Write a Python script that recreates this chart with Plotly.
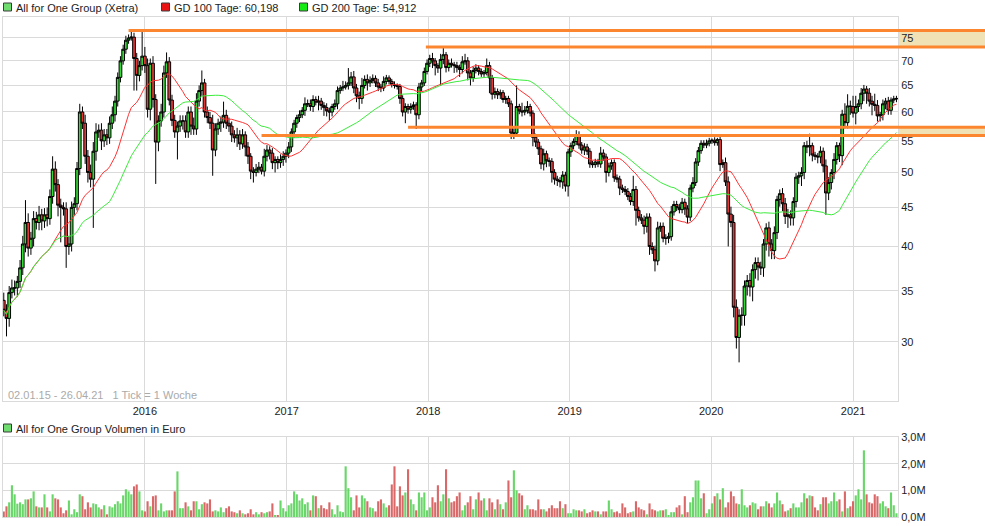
import math
import pandas as pd
import plotly.graph_objects as go

# ---------------- data (weekly) ----------------
close_2015 = [33.0,32.2,34.8,35.3,35.3,36.0,37.5,40.3,43.0,39.8,41.0,43.5,43.0,44.0,43.2,44.0,43.5,46.5,50.5,48.2,
              45.3,45.0,44.8,40.0,40.3,45.0,45.5,50.6,60.0,58.0,52.5,50.0,49.0,53.3,56.5,56.8,55.0,56.0,55.5,58.0,
              59.5,62.0,66.6,70.0,72.5,74.5,75.0,75.2,70.5,67.0,69.0,71.0]
close_2016 = [69,60.5,69.5,62.3,54.8,58.4,60,67.5,69.8,62.2,58.5,56.5,57.5,58.4,58.4,56.5,60,57.5,57,62,
              64,65.5,60,59,58,53.5,57,58,58.2,59.4,58,57.5,56,55.5,56,54.5,56,54,52.5,50.2,
              50,50.5,50.8,50.2,52.5,53.5,53,51.5,52,51.5,52,52.5]
close_2017 = [53,54,56.5,58,59,59.5,60.3,61.5,61.5,61,62.3,61.8,62,61.2,60.8,60.2,60,61,61.5,64,
              64.5,64.7,65,65.5,66.7,64.5,63,62.5,65,66.2,65.5,66,66.4,65.5,64.7,64.5,65.8,66.5,65.8,65.2,
              65,64.8,62.5,60,61,60.5,61,61.3,59.5,64.7,65.5,67.8,69.5]
close_2018 = [70.5,70,69,68.5,70.3,71.3,68.6,69.5,69.2,69,68.6,68.2,69.8,70,67.5,66.5,68,68.5,67.8,67.3,
              67.6,69,66.5,63.3,63.8,63.2,63.6,62.3,62.5,61.5,56.3,56.3,61,60.2,60,60.3,61,59.8,55.6,54.8,
              53.7,51.3,52.9,51.8,51.7,50,49,48.8,48.6,49.6,48.0]
close_2019 = [53.2,54.2,54.9,56,54.3,53.5,54,53.3,51.3,51.2,51.6,51.3,53,52.4,50,51,51.5,49.2,49,47.7,
              47.5,47.2,46.5,45.8,47.5,44.6,43.6,43.3,42.5,43.7,40,39.6,38.3,42.3,42.5,41,41,41.2,44.4,45.4,
              45,44.7,45.7,44.8,43.7,47.7,48.5,51.6,53.4,54.6,54.3,54.6]
close_2020_21 = [55,55.1,54.7,55.2,51.2,51.5,48.6,44.1,43,33.3,30.4,32.5,32.5,35.5,36.1,35.4,37.3,38.1,37.6,37.5,
                 40.3,42.3,40.3,39.5,41.7,46.1,46.9,45.5,43.8,44,43.6,45.8,49.3,49.5,50,54.2,54,54.2,52.7,52.5,
                 52.4,53.3,51,47,48.5,50,52,54.2,52.6,59.6,58.1,61.1,61,59.8,61,61.5,63.5,64.3,63.5,62,
                 61.4,61.2,59.3,59.5,61.5,62,60.3,62.2,62.4,62.5]
first_open = 34.0

upper_wick = ([0.8,0.6,0.7,0.9,0.8,0.6,0.9,1.0,3.0,1.2,0.8,1.0,0.9,1.2,0.8,0.9,1.0,1.0,2.0,1.2,
               0.8,0.9,0.7,0.9,1.0,0.8,0.9,1.0,1.5,1.0,1.5,1.0,1.2,1.5,1.5,1.0,1.2,1.0,1.0,1.2,
               1.5,1.0,1.0,1.0,1.0,1.0,0.8,1.3,1.0,1.2,1.0,5.5] +
              [2.0,1.5,1.0,1.5,1.0,1.0,1.5,1.5,2.0,1.0,1.0,1.0,0.8,1.0,1.0,1.0,1.0,1.0,1.5,1.5,
               1.0,2.5,0.8,1.0,1.0,1.5,1.0,0.8,1.0,2.5,1.0,1.0,0.8,0.8,1.2,0.8,1.0,0.6,0.8,0.5,
               0.6,0.8,0.8,0.5,1.2,0.8,0.6,0.8,0.5,0.5,0.8,0.8] +
              [0.6,0.8,0.6,0.6,0.5,0.8,0.6,1.2,0.8,0.8,0.8,0.6,1.0,0.6,0.6,0.8,0.6,0.5,0.8,0.8,
               0.6,1.2,0.8,3.0,1.0,1.2,0.8,0.8,1.5,0.8,1.0,0.8,0.8,0.6,0.8,0.6,1.0,0.6,0.5,0.5,
               0.6,0.4,0.5,0.6,0.6,0.5,0.6,0.6,0.5,0.8,0.6,0.8,0.8] +
              [0.8,1.2,0.6,0.5,1.2,1.5,0.6,0.8,1.0,0.6,0.8,0.6,1.2,1.5,0.8,0.6,0.8,0.8,0.6,0.6,
               0.5,1.5,0.8,0.6,0.8,0.6,0.6,0.5,0.5,0.5,0.6,0.8,4.0,0.5,1.5,0.8,1.0,0.5,0.5,0.6,
               0.5,0.5,0.8,0.5,0.5,0.5,0.5,0.5,0.5,0.6,0.5] +
              [0.5,0.5,0.5,0.8,0.6,0.5,0.6,0.5,0.5,0.5,0.5,0.5,1.0,0.6,0.5,0.5,0.5,0.5,0.5,0.5,
               0.5,0.5,0.5,0.5,2.0,0.5,0.5,0.5,0.6,0.5,0.5,0.5,0.5,0.8,0.5,0.5,0.5,0.5,0.8,0.5,
               0.5,0.5,0.6,0.5,0.5,0.5,0.8,0.6,0.6,0.5,0.5,0.6] +
              [0.5,0.3,0.5,0.3,0.5,0.5,0.8,0.8,1.0,1.0,0.8,0.6,0.8,0.6,0.6,0.8,0.6,0.6,0.6,0.6,
               0.6,0.6,0.8,0.6,0.8,0.5,0.6,0.8,0.8,0.8,0.6,0.6,0.6,0.6,0.8,0.6,0.8,2.0,0.5,0.5,
               0.5,0.8,0.6,1.0,0.8,0.5,1.0,0.6,0.5,0.8,2.0,2.2,1.0,2.0,2.0,0.8,1.0,0.8,0.6,1.0,
               1.0,2.0,1.0,0.5,0.8,0.6,0.8,0.5,0.6,0.5])
lower_wick = ([0.6,1.7,0.8,0.6,0.8,0.9,0.7,0.8,1.0,1.0,0.8,1.0,0.9,1.0,1.2,0.9,1.0,0.8,1.0,1.0,
               1.5,4.5,0.9,2.5,1.0,0.9,1.0,0.9,1.0,1.0,1.2,1.5,1.2,6.7,1.5,1.0,1.5,1.0,1.2,1.0,
               1.0,1.2,1.0,1.0,0.8,1.0,0.8,0.6,6.5,3.0,1.2,1.0] +
              [1.5,1.5,2.0,1.5,6.5,1.5,1.0,1.0,1.0,1.0,1.0,1.0,4.5,1.0,1.5,1.0,1.0,1.5,1.0,1.0,
               1.0,1.0,1.0,1.0,1.0,4.0,1.0,1.0,1.5,1.0,1.0,1.0,1.2,0.8,1.5,1.0,0.8,1.5,1.2,1.2,
               1.5,0.6,0.6,0.5,0.8,0.8,1.0,1.0,1.5,1.0,0.8,1.0] +
              [1.0,0.8,0.8,1.0,0.8,0.8,0.6,1.0,0.6,0.8,1.0,0.6,1.5,0.8,1.5,1.0,1.5,0.8,0.6,1.0,
               0.6,0.6,0.5,0.8,0.6,1.0,1.2,2.0,1.0,0.6,1.5,0.8,0.6,0.8,0.8,0.8,0.6,0.6,0.6,0.6,
               0.6,0.6,1.0,0.8,2.0,0.8,0.8,0.6,2.5,0.8,0.8,0.6,0.6] +
              [0.8,1.5,2.0,1.0,3.5,1.0,1.0,0.8,0.6,1.5,1.0,1.5,0.8,0.6,1.5,1.5,0.8,0.6,0.8,0.6,
               0.6,0.6,3.0,1.0,0.8,0.8,0.8,0.6,0.8,0.6,1.0,1.0,0.6,0.6,0.8,0.6,0.6,0.6,1.5,0.8,
               1.0,0.8,1.0,1.0,0.8,1.5,0.8,0.8,0.8,1.0,0.8] +
              [1.5,0.8,0.6,0.6,0.6,0.6,0.8,0.6,0.6,0.5,0.5,0.5,0.6,0.6,1.5,0.6,0.6,0.6,0.5,1.0,
               0.5,0.5,0.5,0.5,0.6,2.0,0.5,0.5,1.0,0.8,1.0,0.5,1.2,0.5,0.5,0.5,0.8,0.6,0.5,0.5,
               0.5,0.5,0.5,0.8,0.8,0.5,0.6,0.5,0.6,0.5,0.5,0.5] +
              [0.5,0.5,0.5,0.5,1.0,0.5,0.6,4.1,0.6,1.0,1.0,2.2,1.0,1.0,1.0,1.0,1.5,1.0,1.5,0.8,
               1.0,0.8,1.5,1.0,1.0,0.8,1.0,1.0,1.0,1.5,1.0,1.0,0.8,1.0,1.5,1.0,1.0,1.5,1.0,0.6,
               1.0,1.0,1.0,3.0,1.0,1.0,1.0,0.8,1.0,1.5,1.0,1.0,1.5,0.8,2.0,1.0,1.0,1.5,2.0,1.0,
               2.0,1.0,1.0,1.0,1.0,1.0,0.8,0.8,0.6,0.6])

# weekly volume in million euro
volume_m = ([0.21,0.4,0.55,1.19,0.85,0.5,0.55,0.48,0.66,0.66,0.7,0.96,0.4,0.36,0.36,0.85,0.36,0.21,0.85,0.7,
             0.66,0.36,0.14,0.25,0.62,0.1,0.29,0.18,0.85,0.78,0.29,0.55,0.36,0.51,0.48,0.36,0.29,0.44,0.1,0.4,
             0.36,0.48,0.59,0.51,0.81,1.04,0.96,0.85,1.15,1.22,0.96,0.25,0.21,0.59,0.4,0.78,0.81,0.25,0.51,0.21,
             0.25,0.25,0.25,0.96,1.71,0.33,0.33,0.55,0.4,0.25,0.59,0.59,0.29,0.48,0.55,0.51,0.66,0.21,0.25,0.21,
             0.36,0.18,0.33,0.4,0.21,0.18,0.14,0.25,0.14,0.1,0.14,0.29,0.1,0.18,0.1,0.18,0.14,0.18,0.21,0.51,
             0.06,0.06,0.62,0.33,0.21,0.44,0.51,0.96,0.85,0.62] +
            [0.7,0.48,0.55,0.25,0.81,0.78,0.33,0.44,0.33,0.29,0.55,0.29,0.1,0.44,0.21,0.18,1.9,1.08,0.74,0.25,
             0.81,0.36,0.81,0.7,0.59,0.36,0.33,0.21,0.59,0.66,0.51,0.36,0.44,1.22,1.9,0.4,1.15,0.81,0.92,1.79,
             0.66,0.48,0.25,0.92,0.74,0.92,0.25,0.36,0.74,0.55,1.19,0.59,0.85,1.79,0.7,0.55,0.59,0.78,0.92,0.25,
             0.44,0.55,0.78,0.29,0.66,0.92,0.62,0.7,0.25,0.7,0.55,0.29,0.66,0.48,0.29,0.55,1.37,0.74,1.75,1.0,
             0.89,0.81,0.29,0.44,0.29,0.29,0.25,0.66,0.29,0.29,0.21,0.33,0.44,0.33,0.33,0.59,0.33,0.48,0.14,0.14,
             0.29,0.25,0.25,0.21,0.29,0.14,0.18,0.25,0.21,0.21] +
            [0.1,0.21,0.21,0.62,0.29,0.18,0.21,0.14,0.51,0.36,0.14,0.18,0.21,0.59,0.36,0.29,0.25,0.1,0.51,0.29,
             0.25,0.21,0.25,0.25,0.29,0.06,0.18,0.18,0.36,0.44,0.1,0.78,0.18,0.55,0.74,1.37,1.37,0.7,0.89,0.14,
             0.29,0.51,0.78,0.89,0.66,1.08,0.36,0.55,0.96,0.78,0.51,0.48,1.04,0.44,0.36,0.44,0.55,0.51,0.29,0.4,
             0.4,0.59,0.51,0.36,0.51,0.92,0.62,0.48,0.21,0.25,0.33,0.51,0.36,0.36,0.55,0.89,0.7,0.81,0.78,0.36,
             0.25,0.48,0.74,0.74,0.51,0.59,0.92,0.59,0.66,0.21,0.96,0.33,0.4,0.59,0.81,1.04,0.66,2.5,0.85,0.55,
             0.51,0.85,0.78,0.51,0.59,0.4,0.33,0.92,0.44,0.14])

# horizontal support / resistance lines: level and start date
line_levels = [76.7, 73.0, 57.3, 55.9]
line_starts = ["2015-11-20", "2017-12-26", "2017-11-10", "2016-10-28"]
band_pairs = [(76.7, 73.0), (57.3, 55.9)]

price_ticks = [30, 35, 40, 45, 50, 55, 60, 65, 70, 75]
year_ticks = ["2016-01-01", "2017-01-01", "2018-01-01", "2019-01-01", "2020-01-01", "2021-01-01"]
year_labels = ["2016", "2017", "2018", "2019", "2020", "2021"]
vol_ticks = [0, 1e6, 2e6, 3e6]
vol_labels = ["0,0M", "1,0M", "2,0M", "3,0M"]

legend_main = "All for One Group (Xetra)"
legend_gd100 = "GD 100 Tage: 60,198"
legend_gd200 = "GD 200 Tage: 54,912"
legend_vol = "All for One Group Volumen in Euro"
range_text = "02.01.15 - 26.04.21   1 Tick = 1 Woche"

# ---------------- derived ----------------
closes = close_2015 + close_2016 + close_2017 + close_2018 + close_2019 + close_2020_21
n = len(closes)
dates = pd.date_range("2015-01-02", periods=n, freq="7D")
opens = [first_open] + closes[:-1]
highs = [max(o, c) + u for o, c, u in zip(opens, closes, upper_wick)]
lows = [min(o, c) - l for o, c, l in zip(opens, closes, lower_wick)]
s = pd.Series(closes)
gd100 = s.rolling(20, min_periods=1).mean()
gd200 = s.rolling(40, min_periods=1).mean()

GREEN_C = "rgb(50,220,50)"
RED_C = "rgb(230,55,55)"
VOL_G = "rgb(104,214,104)"
VOL_R = "rgb(218,104,104)"
ORANGE = "rgb(252,134,48)"
BAND = "rgb(240,226,180)"
GRID = "rgb(218,218,218)"
FONT = "Liberation Sans, Arial, sans-serif"

vol_colors = [VOL_G if c >= o else VOL_R for o, c in zip(opens, closes)]
vols = [v * 1e6 for v in volume_m]

fig = go.Figure()
fig.add_trace(go.Candlestick(
    x=dates, open=opens, high=highs, low=lows, close=closes,
    increasing=dict(line=dict(color="black", width=1), fillcolor=GREEN_C),
    decreasing=dict(line=dict(color="black", width=1), fillcolor=RED_C),
    whiskerwidth=0, xaxis="x", yaxis="y", hoverinfo="skip"))
fig.add_trace(go.Scatter(x=dates, y=gd100, mode="lines",
                         line=dict(color="rgb(255,50,50)", width=1), xaxis="x", yaxis="y", hoverinfo="skip"))
fig.add_trace(go.Scatter(x=dates, y=gd200, mode="lines",
                         line=dict(color="rgb(60,235,60)", width=1), xaxis="x", yaxis="y", hoverinfo="skip"))
fig.add_trace(go.Bar(x=dates[:len(vols)], y=vols, marker=dict(color=vol_colors[:len(vols)], line=dict(width=0)),
                     xaxis="x2", yaxis="y2", hoverinfo="skip"))

# pixel helpers for paper-referenced decorations
W, H = 985, 526
ML, MR, MT, MB = 3, 87, 17, 9
PW, PH = W - ML - MR, H - MT - MB
def px(x):
    return (x - ML) / PW
def py(y):
    return (H - MB - y) / PH

x_range = ["2014-12-31", "2021-04-27"]
shapes = []
for lev, st in zip(line_levels, line_starts):
    shapes.append(dict(type="line", xref="x", yref="y", x0=st, x1=x_range[1], y0=lev, y1=lev,
                       line=dict(color=ORANGE, width=3), layer="above"))
    shapes.append(dict(type="line", xref="paper", yref="y", x0=1.0, x1=px(W), y0=lev, y1=lev,
                       line=dict(color=ORANGE, width=3), layer="above"))
for a, b in band_pairs:
    shapes.append(dict(type="rect", xref="paper", yref="y", x0=1.0, x1=px(W), y0=b, y1=a,
                       fillcolor=BAND, line=dict(width=0), layer="below"))

def square(x, y, fill):
    shapes.append(dict(type="rect", xref="paper", yref="paper",
                       x0=px(x), x1=px(x + 8), y0=py(y + 8), y1=py(y),
                       fillcolor=fill, line=dict(color="rgb(60,60,60)", width=1), layer="above"))
square(3.5, 3, "rgb(110,220,110)")
square(161.5, 3, "rgb(235,20,20)")
square(299.5, 3, "rgb(20,235,20)")
square(3.5, 424, "rgb(110,220,110)")

annotations = []
def label(x, y, text, color="#222"):
    annotations.append(dict(xref="paper", yref="paper", x=px(x), y=py(y), text=text, showarrow=False,
                            xanchor="left", yanchor="middle", font=dict(family=FONT, size=11, color=color)))
label(14, 7.5, legend_main)
label(172, 7.5, legend_gd100)
label(310, 7.5, legend_gd200)
label(14, 428.5, legend_vol)
label(6, 394.5, range_text, color="rgb(170,170,170)")

axis_common = dict(showgrid=True, gridcolor=GRID, gridwidth=1, showline=True, linecolor=GRID,
                   mirror=True, zeroline=False, ticks="", tickfont=dict(family=FONT, size=11, color="#222"))
fig.update_layout(
    width=W, height=H, margin=dict(l=ML, r=MR, t=MT, b=MB),
    paper_bgcolor="white", plot_bgcolor="white", showlegend=False,
    bargap=0.22, boxgap=0.0, boxgroupgap=0.0,
    font=dict(family=FONT, size=11, color="#222"),
    xaxis=dict(domain=[0, 1], anchor="y", type="date", range=x_range, tickvals=year_ticks,
               ticktext=year_labels, rangeslider=dict(visible=False), **axis_common),
    yaxis=dict(domain=[py(401), 1], anchor="x", type="log", side="right",
               range=[math.log10(25.1), math.log10(79.9)], tickvals=price_ticks,
               ticktext=[str(t) for t in price_ticks], **axis_common),
    xaxis2=dict(domain=[0, 1], anchor="y2", type="date", range=x_range, tickvals=year_ticks,
                showticklabels=False, matches="x", **axis_common),
    yaxis2=dict(domain=[0, py(437)], anchor="x2", side="right", range=[0, 3e6],
                tickvals=vol_ticks, ticktext=vol_labels, **axis_common),
    shapes=shapes, annotations=annotations,
)
fig.write_html("out.html", config={"displayModeBar": False},
               post_script="document.body.style.margin='0';document.body.style.padding='0';")
